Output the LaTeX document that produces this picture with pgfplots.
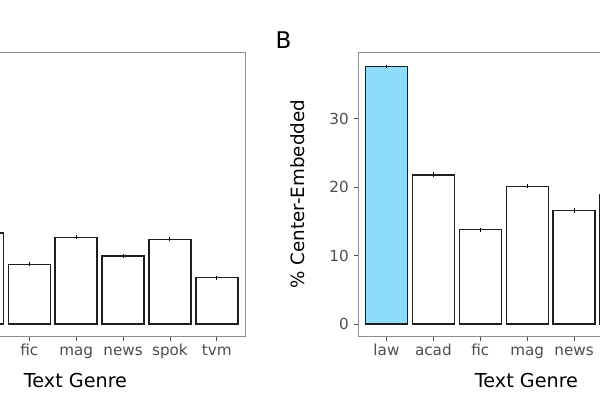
\documentclass[border=0pt]{standalone}
\usepackage{pgfplots}
\pgfplotsset{compat=1.18}
\usepackage{fontspec}
\setmainfont{DejaVu Sans}
\definecolor{lawblue}{RGB}{142,220,250}
\definecolor{framegray}{RGB}{140,140,140}
\definecolor{ticklab}{RGB}{77,77,77}
\definecolor{barline}{RGB}{30,30,30}
\pgfplotsset{
  genre/.style={
    scale only axis,
    width=337.7pt, height=283.7pt,
    xmin=-0.6, xmax=6.6, ymin=-1.754, ymax=39.72,
    ybar, bar width=42pt,
    xtick={0,1,2,3,4,5,6},
    xticklabels={law,acad,fic,mag,news,spok,tvm},
    ytick={0,10,20,30},
    xtick pos=bottom, ytick pos=left,
    tick align=outside,
    major tick length=4.5pt,
    tick style={color=ticklab, line width=0.8pt},
    axis line style={color=framegray, line width=0.9pt},
    ticklabel style={font=\fontsize{15.2}{16}\selectfont, text=ticklab},
    xticklabel style={anchor=base, yshift=-14.5pt},
    yticklabel style={anchor=east, xshift=-1.5pt},
    /pgf/number format/assume math mode=true,
    every axis plot/.append style={draw=barline, line width=1.3pt},
    error bars/y dir=both, error bars/y explicit,
    error bars/error mark=-,
    error bars/error mark options={line width=1pt, mark size=1.2pt, draw=black},
    error bars/error bar style={line width=1pt, draw=black},
  }
}
\begin{document}
\begin{tikzpicture}
\path[use as bounding box] (0pt,0pt) rectangle (600pt,400pt);
\clip (0pt,0pt) rectangle (600pt,400pt);
% left panel (partly outside the picture: its first labels and y axis lie beyond the left edge)
\begin{axis}[genre, at={(-92.7pt,64pt)}, anchor=south west,
  xticklabels={,,fic,mag,news,spok,tvm}, yticklabels={}]
\addplot[fill=lawblue, bar shift=0pt] coordinates {(0,37.6) +- (0,0.15)};
\addplot[fill=white, bar shift=0pt] coordinates {
 (1,13.3) +- (0,0.12)
 (2,8.73) +- (0,0.1)
 (3,12.68) +- (0,0.1)
 (4,9.94) +- (0,0.1)
 (5,12.38) +- (0,0.1)
 (6,6.77) +- (0,0.1)
};
\end{axis}
% right panel (its last categories lie beyond the right edge)
\begin{axis}[genre, at={(358.3pt,64pt)}, anchor=south west,
  xticklabels={law,acad,fic,mag,news,,}]
\addplot[fill=lawblue, bar shift=0pt] coordinates {(0,37.62) +- (0,0.05)};
\addplot[fill=white, bar shift=0pt] coordinates {
 (1,21.8) +- (0,0.18)
 (2,13.8) +- (0,0.12)
 (3,20.15) +- (0,0.15)
 (4,16.6) +- (0,0.15)
 (5,18.9) +- (0,0.15)
 (6,12.0) +- (0,0.12)
};
\end{axis}
\node[anchor=base, font=\fontsize{19.2}{20}\selectfont] at (75.5pt,12.3pt) {Text Genre};
\node[anchor=base, font=\fontsize{19.2}{20}\selectfont] at (526.5pt,12.3pt) {Text Genre};
\node[anchor=base, rotate=90, font=\fontsize{18.3}{20}\selectfont] at (304pt,206pt) {\% Center-Embedded};
\node[anchor=base, font=\fontsize{23}{24}\selectfont] at (283.5pt,351.7pt) {B};
\end{tikzpicture}
\end{document}
